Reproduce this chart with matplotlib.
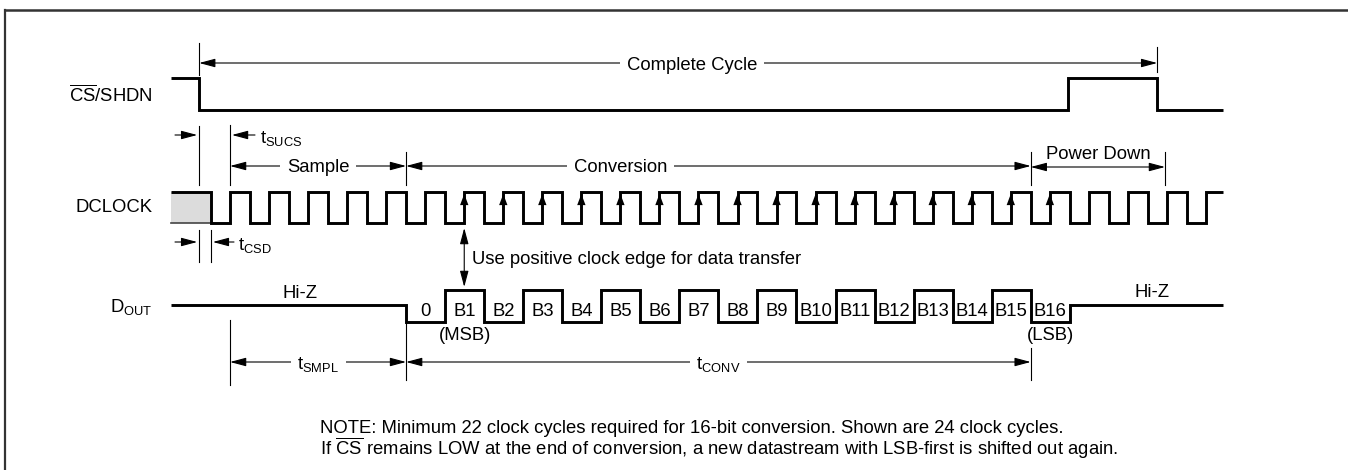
import numpy as np
import matplotlib.pyplot as plt
from matplotlib.lines import Line2D

plt.rcParams['font.family'] = ['Liberation Sans', 'DejaVu Sans']
plt.rcParams['mathtext.fontset'] = 'custom'
plt.rcParams['mathtext.rm'] = 'Liberation Sans'
plt.rcParams['mathtext.it'] = 'Liberation Sans:italic'
plt.rcParams['mathtext.bf'] = 'Liberation Sans:bold'

# time unit = one DCLOCK period, t=0 is the first rising edge after CS falls
t_start, t_end = -1.51, 25.43
clk_cycles = 26            # rising edges at 0 .. 25
clk_duty = 0.51
clk_prev_fall = -0.49      # end of the grey (undefined) part

cs_edges = [-0.79, 21.47, 23.75]
cs_levels = [1, 0, 1, 0]

bit_labels = ['0', 'B1', 'B2', 'B3', 'B4', 'B5', 'B6', 'B7', 'B8', 'B9',
              'B10', 'B11', 'B12', 'B13', 'B14', 'B15', 'B16']
bit_levels = [0, 1, 0, 1, 0, 1, 0, 1, 0, 1, 0, 1, 0, 1, 0, 1, 0]
bit_start = 4.51
edge_arrows = list(range(6, 22))   # clock edges used for data transfer

complete_cycle = (-0.79, 23.75)
sample = (0.0, 4.51)
conversion = (4.51, 20.51)
power_down = (20.51, 23.95)
t_smpl = (0.0, 4.51)
t_conv = (4.51, 20.51)

note1 = 'NOTE: Minimum 22 clock cycles required for 16-bit conversion. Shown are 24 clock cycles.'
note2 = r'If $\overline{\mathrm{CS}}$ remains LOW at the end of conversion, a new datastream with LSB-first is shifted out again.'

# layout (pixel rows, y grows downward)
CS_HI, CS_LO = 78, 110
CLK_HI, CLK_LO = 192, 223
D_HI, D_LO, D_Z = 290, 322, 305
FS = 13.3
X0, TP = 230, 39.04


def px(x):
    # pixel column -> time units, only used for placing annotations
    return (x - X0) / TP


def step(edges, levels, t0, t1):
    xs, ys = [t0], [levels[0]]
    for e, l in zip(edges, levels[1:]):
        xs += [e, e]
        ys += [ys[-1], l]
    xs.append(t1)
    ys.append(ys[-1])
    return np.array(xs), np.array(ys)


fig = plt.figure(figsize=(13.48, 4.70), dpi=100)
ax = fig.add_axes([0, 0, 1, 1])
ax.set_xlim(px(0), px(1348))
ax.set_ylim(470, 0)
ax.axis('off')

sig = dict(color='black', lw=2.1, solid_joinstyle='miter', solid_capstyle='butt')
thin = dict(color='black', lw=0.8)

# frame
fig.add_artist(Line2D([0.004, 0.004], [0, 0.979], transform=fig.transFigure, color='#333333', lw=1.6))
fig.add_artist(Line2D([0.004, 1], [0.979, 0.979], transform=fig.transFigure, color='#333333', lw=1.8))

# CS/SHDN
xs, ys = step(cs_edges, cs_levels, t_start, t_end)
ax.plot(xs, CS_LO - ys * (CS_LO - CS_HI), **sig)

# DCLOCK
clk_e = [clk_prev_fall]
for k in range(clk_cycles):
    clk_e.append(k)
    if k + clk_duty < t_end:
        clk_e.append(k + clk_duty)
clk_l = [(i + 1) % 2 for i in range(len(clk_e) + 1)]
xs, ys = step(clk_e, clk_l, t_start, t_end)
ax.fill_between([t_start, clk_prev_fall], CLK_LO, CLK_HI, color='#dcdcdc', lw=0)
ax.plot([t_start, clk_prev_fall], [CLK_LO, CLK_LO], color='#444444', lw=1.2)
ax.plot(xs, CLK_LO - ys * (CLK_LO - CLK_HI), **sig)
for k in edge_arrows:
    ax.annotate('', xy=(k, CLK_HI + 2), xytext=(k, CLK_HI + 14),
                arrowprops=dict(arrowstyle='-|>,head_length=0.8,head_width=0.3',
                                color='black', lw=0, shrinkA=0, shrinkB=0, mutation_scale=10))

# DOUT
dx = [t_start, bit_start]
dy = [D_Z, D_Z]
for i, lv in enumerate(bit_levels):
    y = D_HI if lv else D_LO
    dx += [bit_start + i, bit_start + i + 1]
    dy += [y, y]
t_bits_end = bit_start + len(bit_levels)
dx += [t_bits_end, t_end]
dy += [D_Z, D_Z]
ax.plot(dx, dy, **sig)
for i, lab in enumerate(bit_labels):
    ax.text(bit_start + i + 0.5, 316, lab, ha='center', va='baseline', fontsize=FS)
ax.text(bit_start + 1.5, 335, '(MSB)', ha='center', va='center', fontsize=FS)
ax.text(bit_start + 16.5, 335, '(LSB)', ha='center', va='center', fontsize=FS)
ax.text(px(300), 298, 'Hi-Z', ha='center', va='baseline', fontsize=FS)
ax.text(px(1152), 297, 'Hi-Z', ha='center', va='baseline', fontsize=FS)

# signal names
ax.text(px(153), 102, r'$\overline{\mathrm{CS}}$/SHDN', ha='right', va='baseline', fontsize=FS)
ax.text(px(153), 212, 'DCLOCK', ha='right', va='baseline', fontsize=FS)
ax.text(px(153), 312, r'$\mathrm{D_{OUT}}$', ha='right', va='baseline', fontsize=FS)

# extension lines
ext_lines = [(complete_cycle[0], 43, 75), (complete_cycle[1], 47, 72),
             (cs_edges[0], 126, 185), (sample[0], 125, 185),
             (conversion[0], 152, 185), (conversion[1], 152, 185), (power_down[1], 152, 185),
             (cs_edges[0], 230, 262), (clk_prev_fall, 230, 262),
             (t_smpl[0], 320, 385), (t_conv[0], 322, 380), (t_conv[1], 348, 380)]
for t, y0, y1 in ext_lines:
    ax.plot([t, t], [y0, y1], **thin)


def arrow(t0, y0, t1, y1, both=False):
    style = '<|-|>' if both else '-|>'
    ax.annotate('', xy=(t1, y1), xytext=(t0, y0),
                arrowprops=dict(arrowstyle=style + ',head_length=0.75,head_width=0.2',
                                color='black', lw=0.8, shrinkA=0, shrinkB=0, mutation_scale=13))


def dim(span, y, label, tx):
    arrow(span[0], y, span[1], y, both=True)
    ax.text(tx, y + 6.5, label, ha='center', va='baseline', fontsize=FS,
            bbox=dict(boxstyle='square,pad=0.35', fc='white', ec='none'))


dim(complete_cycle, 63, 'Complete Cycle', px(692))
dim(sample, 166, 'Sample', sum(sample) / 2)
dim(conversion, 166, 'Conversion', 10.0)
arrow(power_down[0], 167, power_down[1], 167, both=True)
ax.text(sum(power_down) / 2, 159, 'Power Down', ha='center', va='baseline', fontsize=FS)
dim(t_smpl, 362, r'$\mathrm{t_{SMPL}}$', sum(t_smpl) / 2)
dim(t_conv, 362, r'$\mathrm{t_{CONV}}$', sum(t_conv) / 2)

# setup / delay markers
arrow(px(175), 135, cs_edges[0] - 0.05, 135)
arrow(px(255), 135, sample[0] + 0.05, 135)
ax.text(px(260), 143, r'$\mathrm{t_{SUCS}}$', ha='left', va='baseline', fontsize=FS)
arrow(px(175), 242, cs_edges[0] - 0.05, 242)
arrow(px(234), 242, clk_prev_fall + 0.05, 242)
ax.text(px(238), 250, r'$\mathrm{t_{CSD}}$', ha='left', va='baseline', fontsize=FS)

arrow(edge_arrows[0], 228, edge_arrows[0], 287, both=True)
ax.text(px(472), 264, 'Use positive clock edge for data transfer', ha='left', va='baseline', fontsize=FS)

ax.text(px(320), 433, note1, ha='left', va='baseline', fontsize=FS)
ax.text(px(320), 455, note2, ha='left', va='baseline', fontsize=FS)

fig.savefig('out.png', dpi=100, facecolor='white')
